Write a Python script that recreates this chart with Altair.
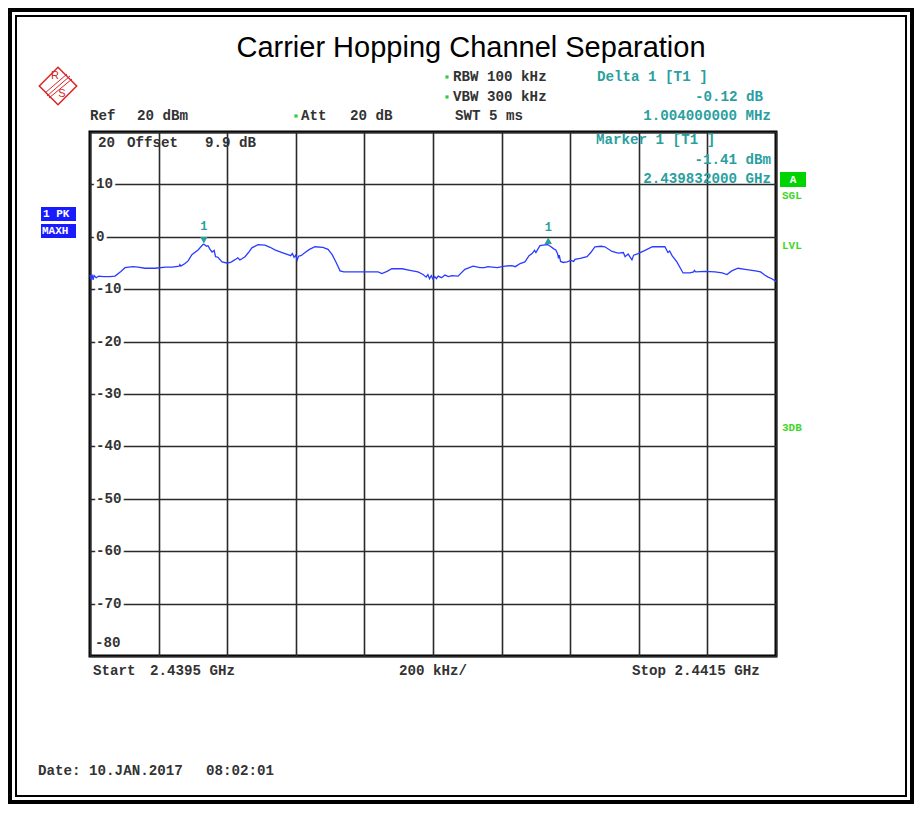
import altair as alt
import pandas as pd

# ---------------- data ----------------
freq_mhz = [2439.500, 2439.503, 2439.506, 2439.509, 2439.512, 2439.518, 2439.525, 2439.540, 2439.558,
            2439.573, 2439.590, 2439.602, 2439.625, 2439.640, 2439.660, 2439.690, 2439.720, 2439.740,
            2439.760, 2439.762, 2439.765, 2439.777, 2439.786, 2439.797, 2439.815, 2439.829, 2439.832,
            2439.840, 2439.844, 2439.850, 2439.856, 2439.862, 2439.866, 2439.873, 2439.885, 2439.899,
            2439.910, 2439.917, 2439.925, 2439.931, 2439.937, 2439.943, 2439.952, 2439.962, 2439.972,
            2439.990, 2440.010, 2440.025, 2440.039, 2440.060, 2440.077, 2440.085, 2440.090, 2440.095,
            2440.100, 2440.104, 2440.108, 2440.115, 2440.127, 2440.140, 2440.156, 2440.179, 2440.194,
            2440.206, 2440.217, 2440.229, 2440.240, 2440.302, 2440.340, 2440.351, 2440.366, 2440.380,
            2440.410, 2440.433, 2440.456, 2440.471, 2440.480, 2440.485, 2440.490, 2440.495, 2440.500,
            2440.505, 2440.510, 2440.515, 2440.525, 2440.535, 2440.545, 2440.555, 2440.573, 2440.593,
            2440.617, 2440.637, 2440.650, 2440.660, 2440.687, 2440.710, 2440.730, 2440.740, 2440.754,
            2440.768, 2440.780, 2440.789, 2440.796, 2440.800, 2440.807, 2440.812, 2440.821, 2440.832,
            2440.836, 2440.844, 2440.852, 2440.858, 2440.863, 2440.866, 2440.868, 2440.872, 2440.880,
            2440.891, 2440.902, 2440.910, 2440.914, 2440.929, 2440.949, 2440.960, 2440.972, 2440.990,
            2441.001, 2441.022, 2441.040, 2441.055, 2441.060, 2441.069, 2441.080, 2441.085, 2441.098,
            2441.118, 2441.140, 2441.153, 2441.176, 2441.185, 2441.190, 2441.197, 2441.211, 2441.229,
            2441.249, 2441.260, 2441.262, 2441.266, 2441.293, 2441.322, 2441.343, 2441.357, 2441.371,
            2441.389, 2441.410, 2441.440, 2441.455, 2441.467, 2441.477, 2441.488, 2441.500]
level_dbm = [-7.3, -8.0, -7.2, -8.2, -7.4, -7.8, -7.5, -7.6, -7.6,
             -7.5, -6.6, -5.9, -5.7, -5.8, -6.0, -6.0, -5.8, -5.8,
             -5.6, -5.3, -5.6, -5.1, -4.6, -3.4, -2.5, -1.5, -1.41,
             -1.8, -1.7, -2.4, -2.9, -2.6, -3.8, -3.9, -4.8, -5.0,
             -4.9, -4.6, -4.3, -4.0, -4.4, -4.2, -3.8, -3.0, -2.1,
             -1.5, -1.6, -2.0, -2.5, -3.0, -3.4, -3.6, -3.2, -3.9,
             -3.5, -4.4, -3.7, -3.6, -3.0, -2.4, -1.9, -2.0, -2.4,
             -3.4, -4.8, -6.5, -6.7, -6.7, -6.7, -7.0, -6.6, -6.1,
             -6.1, -6.4, -6.7, -7.2, -7.7, -7.2, -8.0, -7.4, -8.1,
             -7.6, -8.0, -7.5, -7.8, -7.3, -7.6, -7.4, -7.5, -6.2,
             -5.6, -5.9, -5.9, -5.7, -5.9, -5.6, -5.5, -5.7, -5.1,
             -4.8, -3.6, -3.2, -2.6, -3.0, -2.2, -1.7, -1.6, -1.5,
             -1.53, -1.9, -2.3, -2.5, -3.2, -4.1, -3.5, -4.7, -4.9,
             -4.8, -4.5, -4.7, -4.3, -4.1, -3.8, -3.0, -1.9, -1.8,
             -1.9, -2.8, -3.1, -3.0, -3.8, -3.3, -4.4, -3.5, -3.2,
             -2.6, -1.9, -1.9, -1.9, -3.0, -2.7, -3.6, -4.8, -6.9,
             -6.9, -6.7, -6.4, -6.7, -6.6, -6.7, -6.9, -7.2, -6.5,
             -6.0, -6.2, -6.5, -6.7, -7.3, -7.7, -8.0, -8.5]

marker_freq = [2439.832, 2440.836]
marker_level = [-1.41, -1.53]
marker_label = ["1", "1"]
marker_shape = ["triangle-down", "triangle-up"]

grid_freq = [2439.5, 2439.7, 2439.9, 2440.1, 2440.3, 2440.5, 2440.7, 2440.9, 2441.1, 2441.3, 2441.5]
grid_db = [20, 10, 0, -10, -20, -30, -40, -50, -60, -70, -80]
ylabel_db = [10, 0, -10, -20, -30, -40, -50, -60, -70]
ylabel_text = ["10", "0", "-10", "-20", "-30", "-40", "-50", "-60", "-70"]

# ---------------- layout ----------------
W, H = 686, 524          # plot area
OX, OY = 90, 132         # page position of plot area
TOTAL_W, TOTAL_H = 906, 796
PAD = {"left": OX - 8, "top": OY - 8, "right": TOTAL_W - (OX - 8) - W,
       "bottom": TOTAL_H - (OY - 8) - H}

MONO = "Liberation Mono"
FS = 14.2
TEAL = "#2a9fa0"
GREEN = "#3fd82a"
BLUE = "#2a3cff"
RED = "#d92626"

xs = alt.Scale(domain=[2439.5, 2441.5], nice=False, zero=False)
ys = alt.Scale(domain=[-80, 20], nice=False, zero=False)

trace_df = pd.DataFrame({"f": freq_mhz, "db": level_dbm})
mk_df = pd.DataFrame({"f": marker_freq, "db": marker_level, "lab": marker_label, "shape": marker_shape})
ylab_df = pd.DataFrame({"db": ylabel_db, "t": ylabel_text})


def P(rows):
    return pd.DataFrame([(t, x - OX, y - OY) for t, x, y in rows], columns=["t", "x", "y"])


def txt(rows, color="#333333", size=FS, align="left", font=MONO, weight="bold"):
    base = alt.Chart(P(rows)).encode(
        x=alt.X("x:Q", scale=None), y=alt.Y("y:Q", scale=None), text="t:N")
    return base.mark_text(align=align, baseline="middle", font=font, fontWeight=weight,
                          fontSize=size, color=color)


# grid via axes
trace = alt.Chart(trace_df).mark_line(color=BLUE, strokeWidth=1.3).encode(
    x=alt.X("f:Q", scale=xs,
            axis=alt.Axis(values=grid_freq, grid=True, gridColor="#2a2a2a", gridWidth=1.6,
                          labels=False, ticks=False, domain=False, title=None)),
    y=alt.Y("db:Q", scale=ys,
            axis=alt.Axis(values=grid_db, grid=True, gridColor="#2a2a2a", gridWidth=1.6,
                          labels=False, ticks=False, domain=False, title=None)),
)

ylab_base = alt.Chart(ylab_df).encode(
    x=alt.value(6), y=alt.Y("db:Q", scale=ys), text="t:N")
ylab_halo = ylab_base.mark_text(align="left", baseline="middle", font=MONO, fontWeight="bold",
                                fontSize=FS, color="white", stroke="white", strokeWidth=6)
ylab = ylab_base.mark_text(align="left", baseline="middle", font=MONO, fontWeight="bold",
                           fontSize=FS, color="#333333")

mk_base = alt.Chart(mk_df).encode(x=alt.X("f:Q", scale=xs), y=alt.Y("db:Q", scale=ys))
mk_pts = mk_base.mark_point(filled=True, color=TEAL, size=55, opacity=1, yOffset=-4).encode(
    shape=alt.Shape("shape:N", scale=None))
mk_txt = mk_base.mark_text(color=TEAL, font=MONO, fontWeight="bold", fontSize=12, yOffset=-18).encode(
    text="lab:N")

black_rows = [
    ("RBW 100 kHz", 453, 77),
    ("VBW 300 kHz", 453, 97),
    ("Ref", 90, 116), ("20 dBm", 137, 116),
    ("Att", 301, 116), ("20 dB", 350, 116),
    ("SWT 5 ms", 455, 116),
    ("20", 98, 143), ("Offset", 127, 143), ("9.9 dB", 205, 143),
    ("-80", 95, 643),
    ("Start", 93, 671), ("2.4395 GHz", 150, 671),
    ("200 kHz/", 399, 671),
    ("Stop 2.4415 GHz", 632, 671),
    ("Date: 10.JAN.2017", 38, 771), ("08:02:01", 206, 771),
]
teal_left = [("Delta 1 [T1 ]", 597, 77), ("Marker 1 [T1 ]", 596, 140)]
teal_right = [("-0.12 dB", 763, 97), ("1.004000000 MHz", 771, 116),
              ("-1.41 dBm", 771, 160), ("2.439832000 GHz", 771, 179)]
green_rows = [("SGL", 782, 196), ("LVL", 782, 246), ("3DB", 782, 428)]

# boxes
box_df = pd.DataFrame([
    (780 - OX, 806 - OX, 172 - OY, 187 - OY, "#00d400"),
    (41 - OX, 76 - OX, 207 - OY, 221 - OY, "#1a1aff"),
    (41 - OX, 76 - OX, 224 - OY, 238 - OY, "#1a1aff"),
], columns=["x", "x2", "y", "y2", "c"])
boxes = alt.Chart(box_df).mark_rect().encode(
    x=alt.X("x:Q", scale=None), x2="x2:Q", y=alt.Y("y:Q", scale=None), y2="y2:Q",
    color=alt.Color("c:N", scale=None))
white_left = [("1 PK", 43, 214), ("MAXH", 42, 231)]

dots_df = P([("", 447, 77), ("", 447, 97), ("", 296, 116)])
dots = alt.Chart(dots_df).mark_square(color="#2ecc40", size=10, opacity=1).encode(
    x=alt.X("x:Q", scale=None), y=alt.Y("y:Q", scale=None))

title = txt([("Carrier Hopping Channel Separation", 471, 48)], color="#000000", size=29,
            align="center", font="Liberation Sans", weight="normal")

# R&S logo
logo_pts = alt.Chart(P([("", 58, 86)])).mark_point(shape="diamond", size=1400, color=RED,
                                                    strokeWidth=1.5, filled=False, opacity=1).encode(
    x=alt.X("x:Q", scale=None), y=alt.Y("y:Q", scale=None))
band_df = pd.DataFrame([(70 - OX, 76 - OY, 47 - OX, 96 - OY), (72 - OX, 79 - OY, 49 - OX, 98 - OY),
                        (67 - OX, 74 - OY, 45 - OX, 93 - OY)], columns=["x", "y", "x2", "y2"])
logo_band = alt.Chart(band_df).mark_rule(color=RED, strokeWidth=1).encode(
    x=alt.X("x:Q", scale=None), y=alt.Y("y:Q", scale=None), x2="x2:Q", y2="y2:Q")
logo_txt = txt([("R", 55, 76), ("S", 62, 94)], color=RED, size=11, align="center",
               font="Liberation Sans", weight="normal")

# outer frame
frame_df = pd.DataFrame([
    (-(OX - 8) + 2, TOTAL_W - (OX - 8) - 2, -(OY - 8) + 2, TOTAL_H - (OY - 8) - 2, 4),
    (-(OX - 8) + 8, TOTAL_W - (OX - 8) - 8, -(OY - 8) + 8, TOTAL_H - (OY - 8) - 8, 2),
], columns=["x", "x2", "y", "y2", "w"])
frame = alt.Chart(frame_df).mark_rect(fillOpacity=0, stroke="black").encode(
    x=alt.X("x:Q", scale=None), x2="x2:Q", y=alt.Y("y:Q", scale=None), y2="y2:Q",
    strokeWidth=alt.StrokeWidth("w:Q", scale=None))

chart = alt.layer(
    trace,
    ylab_halo, ylab,
    mk_pts, mk_txt,
    txt(black_rows),
    txt(teal_left, color=TEAL),
    txt(teal_right, color=TEAL, align="right"),
    txt(green_rows, color=GREEN, size=11),
    boxes,
    txt(white_left, color="white", size=11),
    txt([("A", 793, 180)], color="white", size=11, align="center"),
    dots,
    title,
    logo_pts, logo_band, logo_txt,
    frame,
).properties(
    width=W, height=H, padding=PAD, autosize="none"
).configure_view(
    stroke="black", strokeWidth=3
)

chart.save("out.html", embed_options={"renderer": "svg", "actions": False})
